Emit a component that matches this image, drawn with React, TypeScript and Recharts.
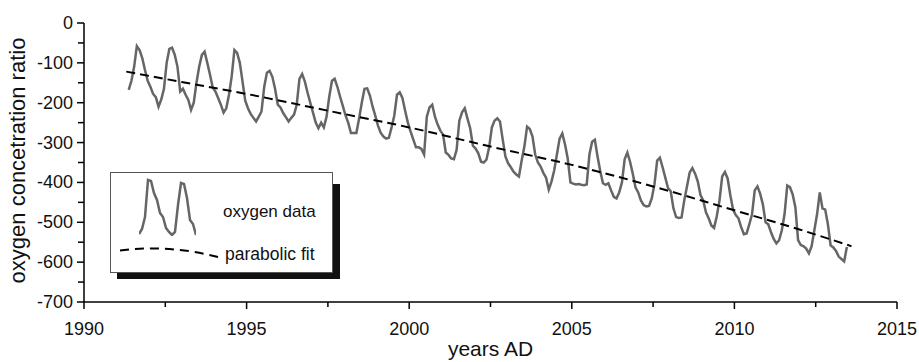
import React from 'react';
import { LineChart, Line, XAxis, YAxis, Label } from 'recharts';

const FONT = '"Liberation Sans", Arial, Helvetica, sans-serif';

// monthly oxygen readings, first sample is May 1991
const o2FirstYear = 1991;
const o2FirstMonth = 4;
const o2y1991 = [-168, -145, -110, -58, -68, -88, -118, -145];
const o2y1992 = [-160, -178, -186, -210, -192, -165, -100, -65, -62, -80, -110, -172];
const o2y1993 = [-165, -180, -193, -218, -200, -150, -110, -80, -72, -100, -130, -162];
const o2y1994 = [-172, -188, -205, -225, -214, -180, -134, -68, -75, -100, -147, -195];
const o2y1995 = [-214, -228, -238, -247, -235, -222, -160, -125, -120, -135, -165, -205];
const o2y1996 = [-212, -226, -236, -247, -238, -230, -205, -140, -128, -147, -175, -200];
const o2y1997 = [-225, -250, -264, -250, -262, -235, -185, -145, -140, -160, -185, -208];
const o2y1998 = [-232, -250, -276, -276, -276, -240, -200, -165, -164, -182, -210, -233];
const o2y1999 = [-258, -276, -285, -290, -288, -262, -232, -180, -174, -188, -220, -250];
const o2y2000 = [-272, -292, -312, -312, -316, -330, -235, -212, -205, -235, -255, -270];
const o2y2001 = [-280, -325, -331, -340, -342, -318, -245, -224, -214, -240, -264, -308];
const o2y2002 = [-315, -327, -348, -350, -343, -312, -262, -245, -239, -247, -292, -335];
const o2y2003 = [-352, -362, -373, -380, -385, -345, -310, -260, -266, -285, -330, -350];
const o2y2004 = [-360, -376, -388, -418, -398, -370, -330, -290, -277, -305, -340, -400];
const o2y2005 = [-403, -405, -404, -406, -407, -405, -330, -298, -293, -335, -372, -402];
const o2y2006 = [-406, -402, -420, -436, -440, -425, -400, -342, -325, -348, -378, -412];
const o2y2007 = [-425, -445, -457, -460, -459, -440, -405, -345, -338, -362, -388, -414];
const o2y2008 = [-422, -465, -487, -489, -488, -445, -410, -375, -364, -378, -398, -432];
const o2y2009 = [-445, -475, -490, -508, -514, -485, -445, -385, -374, -390, -432, -468];
const o2y2010 = [-482, -490, -512, -530, -528, -505, -480, -420, -410, -428, -455, -500];
const o2y2011 = [-505, -525, -542, -553, -545, -520, -480, -408, -412, -430, -462, -545];
const o2y2012 = [-557, -560, -566, -578, -560, -520, -480, -425, -465, -468, -505, -558];
const o2y2013 = [-563, -572, -586, -592, -598, -562];

const o2ByYear = [
  o2y1991, o2y1992, o2y1993, o2y1994, o2y1995, o2y1996, o2y1997, o2y1998,
  o2y1999, o2y2000, o2y2001, o2y2002, o2y2003, o2y2004, o2y2005, o2y2006,
  o2y2007, o2y2008, o2y2009, o2y2010, o2y2011, o2y2012, o2y2013,
];

// parabolic fit
const fitYears = [1991.3, 1993, 1995, 1997.5, 2000, 2002.5, 2005, 2007.5, 2010, 2012, 2013.6];
const fitValues = [-122, -148, -178, -220, -262, -310, -356, -410, -470, -518, -560];

const xTicks = [1990, 1992.5, 1995, 1997.5, 2000, 2002.5, 2005, 2007.5, 2010, 2012.5, 2015];
const yTicks = [0, -50, -100, -150, -200, -250, -300, -350, -400, -450, -500, -550, -600, -650, -700];

// little two-peak sample drawn in the legend
const legendSample = [-234, -229, -217, -180, -181, -193, -200, -213, -217, -228, -232, -235, -232, -205, -183, -184, -198, -220, -224, -235];

const o2Data = o2ByYear.flat().map((v, i) => ({
  x: o2FirstYear + (o2FirstMonth + i + 0.5) / 12,
  v,
}));
const fitData = fitYears.map((x, i) => ({ x, v: fitValues[i] }));

function XTick({ x, y, payload }: any) {
  const major = payload.value % 5 === 0;
  return (
    <g>
      <line x1={x} x2={x} y1={y} y2={y + (major ? 7 : 5)} stroke="#000" strokeWidth={1.5} />
      {major && (
        <text x={x} y={y + 33} textAnchor="middle" fontSize={18} fontFamily={FONT} fill="#111">
          {payload.value}
        </text>
      )}
    </g>
  );
}

function YTick({ x, y, payload }: any) {
  const major = payload.value % 100 === 0;
  return (
    <g>
      <line x1={x - (major ? 7 : 6)} x2={x} y1={y} y2={y} stroke="#000" strokeWidth={1.5} />
      {major && (
        <text x={x - 11} y={y + 6} textAnchor="end" fontSize={18} fontFamily={FONT} fill="#111">
          {payload.value}
        </text>
      )}
    </g>
  );
}

function OxygenLegend() {
  return (
    <div style={{ position: 'absolute', left: 110, top: 172, width: 232, height: 110 }}>
      <div style={{ position: 'absolute', left: 7, top: 12, width: 223, height: 95, background: '#111' }} />
      <div
        style={{
          position: 'absolute', left: 0, top: 0, width: 223, height: 101,
          boxSizing: 'border-box', border: '1px solid #555', background: '#fff',
        }}
      />
      <div style={{ position: 'absolute', left: 29, top: 6 }}>
        <LineChart
          width={57}
          height={58}
          data={legendSample.map((v, i) => ({ i, v }))}
          margin={{ top: 0, right: 0, bottom: 0, left: 0 }}
        >
          <XAxis dataKey="i" hide />
          <YAxis hide domain={[-236, -178]} />
          <Line dataKey="v" stroke="#666" strokeWidth={2.5} dot={false} isAnimationActive={false} />
        </LineChart>
      </div>
      <svg width={223} height={101} style={{ position: 'absolute', left: 0, top: 0 }}>
        <text x={113} y={45} fontSize={17} fontFamily={FONT} fill="#111">oxygen data</text>
        <path d="M10,78.5 Q59,72.3 108,85" fill="none" stroke="#000" strokeWidth={2} strokeDasharray="9 6" />
        <text x={115} y={88} fontSize={17.5} fontFamily={FONT} fill="#111">parabolic fit</text>
      </svg>
    </div>
  );
}

export default function App() {
  return (
    <div style={{ position: 'absolute', left: 0, top: 0, width: 919, height: 362, background: '#fff' }}>
      <LineChart width={919} height={362} margin={{ top: 23, right: 22, bottom: 0, left: 0 }}>
        <XAxis
          dataKey="x"
          type="number"
          domain={[1990, 2015]}
          ticks={xTicks}
          interval={0}
          height={60}
          tickSize={0}
          tickMargin={0}
          tickLine={false}
          tick={<XTick />}
          axisLine={{ stroke: '#000', strokeWidth: 1.5 }}
        >
          <Label
            value="years AD"
            position="insideBottom"
            offset={6}
            style={{ fontSize: 21, fontFamily: FONT, fill: '#111' }}
          />
        </XAxis>
        <YAxis
          type="number"
          domain={[-700, 0]}
          ticks={yTicks}
          interval={0}
          width={84}
          tickSize={0}
          tickMargin={0}
          tickLine={false}
          tick={<YTick />}
          axisLine={{ stroke: '#000', strokeWidth: 1.5 }}
        >
          <Label
            content={({ viewBox }: any) => {
              const cx = viewBox.x + 25;
              const cy = viewBox.y + viewBox.height / 2 - 2;
              return (
                <text
                  x={cx}
                  y={cy}
                  transform={`rotate(-90 ${cx} ${cy})`}
                  textAnchor="middle"
                  fontSize={22}
                  fontFamily={FONT}
                  fill="#111"
                >
                  oxygen concetration ratio
                </text>
              );
            }}
          />
        </YAxis>
        <Line
          data={o2Data}
          dataKey="v"
          type="linear"
          stroke="#666"
          strokeWidth={2.5}
          dot={false}
          isAnimationActive={false}
        />
        <Line
          data={fitData}
          dataKey="v"
          type="monotone"
          stroke="#000"
          strokeWidth={2}
          strokeDasharray="9 5"
          dot={false}
          isAnimationActive={false}
        />
      </LineChart>
      <OxygenLegend />
    </div>
  );
}
